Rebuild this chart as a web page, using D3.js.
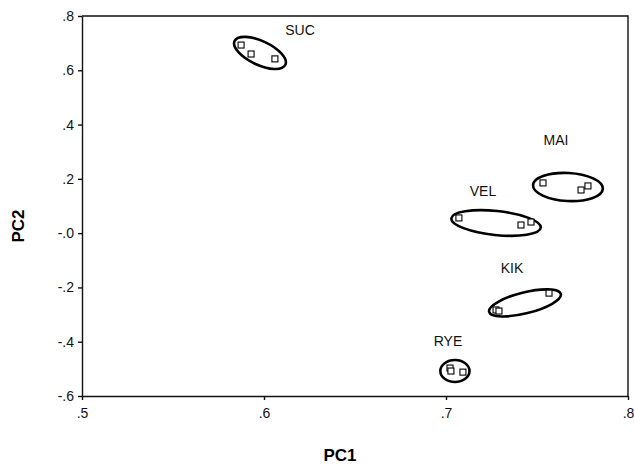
<!DOCTYPE html>
<html>
<head>
<meta charset="utf-8">
<script src="https://cdn.jsdelivr.net/npm/d3@7"></script>
<style>
  body { margin: 0; background: #fff; }
  text { font-family: "Liberation Sans", Arial, sans-serif; }
</style>
</head>
<body>
<script>
// chart size
const w = 634;
const h = 464;
const margin = {top: 16, right: 6, bottom: 68, left: 82};

// data
const groups = ["SUC", "VEL", "MAI", "KIK", "RYE"];
const pc1 = [
  [0.5874, 0.5929, 0.6060],
  [0.7071, 0.7412, 0.7467],
  [0.7533, 0.7742, 0.7780],
  [0.7275, 0.7291, 0.7566],
  [0.7022, 0.7027, 0.7093]
];
const pc2 = [
  [0.693, 0.660, 0.642],
  [0.056, 0.030, 0.041],
  [0.185, 0.159, 0.174],
  [-0.283, -0.287, -0.221],
  [-0.497, -0.508, -0.512]
];
// ellipse centres and semi axes (PC1 units along, PC2 units across) and tilt
const ellCx = [0.5978, 0.7275, 0.7670, 0.7434, 0.7049];
const ellCy = [0.664, 0.0374, 0.170, -0.257, -0.508];
const ellA = [0.0154, 0.0247, 0.0192, 0.0203, 0.0080];
const ellB = [0.044, 0.0442, 0.0516, 0.0387, 0.0405];
const ellTilt = [25, 6, 3, -14, 0];
// label anchors
const labelX = [0.6198, 0.7203, 0.7604, 0.7363, 0.7011];
const labelY = [0.748, 0.155, 0.343, -0.128, -0.397];

const xTicks = [0.5, 0.6, 0.7, 0.8];
const xTickLabels = [".5", ".6", ".7", ".8"];
const yTicks = [0.8, 0.6, 0.4, 0.2, 0, -0.2, -0.4, -0.6];
const yTickLabels = [".8", ".6", ".4", ".2", "-.0", "-.2", "-.4", "-.6"];

const x = d3.scaleLinear().domain([0.5, 0.8]).range([margin.left, w - margin.right]);
const y = d3.scaleLinear().domain([-0.6, 0.8]).range([h - margin.bottom, margin.top]);
const kx = x(1) - x(0);
const ky = y(0) - y(1);

const svg = d3.select("body").append("svg")
    .attr("width", w)
    .attr("height", h);

// axes
svg.append("g")
    .attr("transform", `translate(0,${h - margin.bottom})`)
    .call(d3.axisBottom(x).tickValues(xTicks).tickFormat((d, i) => xTickLabels[i]).tickSizeInner(4).tickSizeOuter(0).tickPadding(8));
svg.append("g")
    .attr("transform", `translate(${margin.left},0)`)
    .call(d3.axisLeft(y).tickValues(yTicks).tickFormat((d, i) => yTickLabels[i]).tickSizeInner(4).tickSizeOuter(0).tickPadding(4));
svg.selectAll(".tick text").attr("font-size", 14).attr("fill", "#111")
    .attr("font-family", "'Liberation Sans', Arial, sans-serif");
svg.selectAll(".domain, .tick line").attr("stroke", "#111").attr("stroke-width", 1.4);

// frame top and right
svg.append("path")
    .attr("d", `M${x(0.5)},${y(0.8)}H${x(0.8)}V${y(-0.6)}`)
    .attr("fill", "none")
    .attr("stroke", "#111")
    .attr("stroke-width", 1.4);

// ellipses
groups.forEach((g, i) => {
  svg.append("ellipse")
      .attr("cx", x(ellCx[i]))
      .attr("cy", y(ellCy[i]))
      .attr("rx", ellA[i] * kx)
      .attr("ry", ellB[i] * ky)
      .attr("transform", `rotate(${ellTilt[i]},${x(ellCx[i])},${y(ellCy[i])})`)
      .attr("fill", "none")
      .attr("stroke", "#000")
      .attr("stroke-width", 2.6);
});

// points
const pts = [];
groups.forEach((g, i) => pc1[i].forEach((v, j) => pts.push([v, pc2[i][j]])));
svg.selectAll("rect.pt")
    .data(pts)
    .enter()
    .append("rect")
    .attr("class", "pt")
    .attr("x", d => x(d[0]) - 3)
    .attr("y", d => y(d[1]) - 3)
    .attr("width", 6)
    .attr("height", 6)
    .attr("fill", "#fff")
    .attr("stroke", "#000")
    .attr("stroke-width", 1.1);

// group labels
svg.selectAll("text.lab")
    .data(groups)
    .enter()
    .append("text")
    .attr("class", "lab")
    .attr("x", (d, i) => x(labelX[i]))
    .attr("y", (d, i) => y(labelY[i]))
    .attr("dy", "0.35em")
    .attr("text-anchor", "middle")
    .attr("font-size", 14)
    .attr("fill", "#111")
    .text(d => d);

// axis titles
svg.append("text")
    .attr("x", 340)
    .attr("y", 461)
    .attr("text-anchor", "middle")
    .attr("font-size", 17)
    .attr("font-weight", "bold")
    .text("PC1");
svg.append("text")
    .attr("transform", "translate(24,226) rotate(-90)")
    .attr("text-anchor", "middle")
    .attr("font-size", 17)
    .attr("font-weight", "bold")
    .text("PC2");
</script>
</body>
</html>
